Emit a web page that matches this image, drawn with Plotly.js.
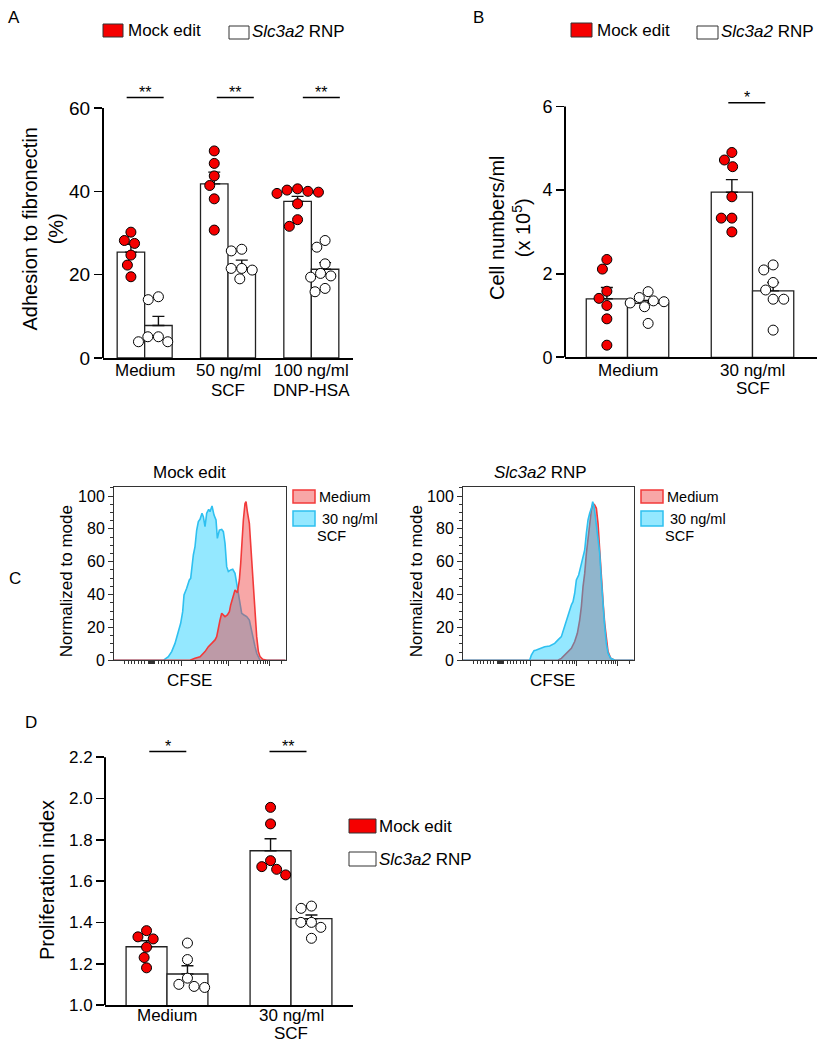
<!DOCTYPE html>
<html><head><meta charset="utf-8">
<script src="https://cdn.plot.ly/plotly-3.0.1.min.js"></script>
<style>html,body{margin:0;padding:0;background:#fff;} #chart{width:826px;height:1050px;}</style>
</head><body><div id="chart"></div>
<script>
// ================= DATA =================
// Panel A: adhesion to fibronectin (%)
const groupsA = ['Medium', '50 ng/ml<br>SCF', '100 ng/ml<br>DNP-HSA'];
const mockMeanA = [25.4, 41.8, 37.6];
const mockSemA = [1.9, 2.8, 1.2];
const slcMeanA = [7.8, 21.6, 21.3];
const slcSemA = [2.2, 1.9, 1.6];
const mockPtsA = [[28.2, 30.2, 27.5, 24.7, 22.3, 19.5], [49.7, 46.7, 43.7, 41.4, 38.2, 30.7], [40.6, 40.3, 40.0, 39.8, 39.5, 37.0, 33.2, 31.6]];
const slcPtsA = [[14.0, 14.7, 3.9, 5.1, 5.1, 3.9], [25.7, 26.1, 21.5, 21.1, 21.5, 19.0], [28.2, 26.6, 22.6, 20.3, 19.4, 19.7, 16.7, 15.9]];
const sigA = ['**', '**', '**'];
const sigLevelA = 62.5;
const yTicksA = [0, 20, 40, 60];

// Panel B: cell numbers/ml (x 10^5)
const groupsB = ['Medium', '30 ng/ml<br>SCF'];
const mockMeanB = [1.40, 3.95];
const mockSemB = [0.27, 0.30];
const slcMeanB = [1.29, 1.59];
const slcSemB = [0.07, 0.20];
const mockPtsB = [[2.11, 2.34, 1.58, 1.41, 1.24, 0.92, 0.29], [4.90, 4.72, 4.56, 3.84, 3.33, 3.33, 3.00]];
const slcPtsB = [[1.57, 1.43, 1.33, 1.35, 1.30, 1.21, 0.81], [2.21, 2.09, 1.79, 1.61, 1.39, 1.39, 0.65]];
const sigB = ['', '*'];
const sigLevelB = 6.09;
const yTicksB = [0, 2, 4, 6];

// Panel C: CFSE histograms (channel, % of mode)
const mockScfX = [0, 287, 316.5, 335.9, 355.3, 374.7, 388.3, 400, 407.8, 423.3, 438.8, 446.6, 454.4, 462.1, 471.8, 481.6, 491.3, 501, 512.6, 520.4, 530.1, 539.8, 551.4, 559.2, 570.9, 582.5, 594.2, 601.9, 613.6, 627.2, 636.9, 646.6, 656.3, 666, 679.6, 691.3, 704.8, 714.6, 724.3, 734, 743.7, 757.3, 772.8, 788.3, 800, 807.8, 821.4, 831.1, 840.8, 850.5, 1000];
const mockScfY = [0, 0, 2.2, 5.3, 10.3, 17.4, 22.5, 29.6, 39.8, 43.8, 48.9, 49.9, 59.0, 64.1, 69.2, 79.3, 84.4, 85.8, 89.5, 87.4, 81.3, 89.5, 91.9, 90.5, 93.9, 88.4, 85.4, 74.2, 79.3, 79.7, 78.3, 71.2, 57.0, 54.0, 55.0, 55.4, 52.9, 46.9, 38.7, 32.7, 28.6, 27.6, 26.6, 24.5, 18.5, 13.4, 8.3, 4.3, 1.6, 0, 0];
const mockMedX = [0, 442.7, 471.8, 501, 530.1, 549.5, 568.9, 588.3, 598, 607.8, 617.5, 627.2, 636.9, 646.6, 660.2, 671.9, 679.6, 691.3, 704.8, 718.4, 730.1, 737.9, 745.6, 753.4, 763.1, 768.9, 776.7, 788.3, 801.9, 811.7, 821.4, 831.1, 840.8, 850.5, 866, 889.3, 1000];
const mockMedY = [0, 0, 1.2, 2.2, 5.3, 8.3, 10.3, 12.4, 14.4, 20.5, 24.5, 28.6, 27.6, 26.6, 27.6, 29.6, 33.7, 37.7, 42.8, 41.2, 48.9, 59.0, 73.2, 85.4, 95.5, 96.6, 90.5, 83.4, 61.1, 44.8, 28.6, 14.4, 5.3, 2.2, 0.6, 0, 0];
const slcScfX = [0, 390.6, 400.4, 416, 429.7, 449.2, 478.5, 507.8, 537.1, 556.6, 576.2, 591.8, 605.5, 619.1, 634.8, 644.5, 654.3, 664.1, 677.7, 689.5, 703.1, 712.9, 722.7, 732.4, 742.2, 752, 759.8, 767.6, 775.4, 787.1, 800.8, 810.5, 820.3, 830.1, 839.8, 849.6, 865.2, 888.7, 1000];
const slcScfY = [0, 0, 3.2, 5.9, 6.3, 7.3, 8.3, 8.7, 10.3, 12.4, 14.4, 19.5, 24.5, 28.6, 33.7, 35.7, 40.8, 48.9, 51.9, 57.0, 64.1, 67.1, 77.3, 85.4, 89.5, 92.5, 96.6, 93.5, 87.4, 77.3, 65.1, 48.9, 32.7, 20.5, 10.3, 4.3, 1.2, 0, 0];
const slcMedX = [0, 556.6, 576.2, 595.7, 615.2, 634.8, 654.3, 669.9, 683.6, 693.4, 703.1, 712.9, 722.7, 732.4, 742.2, 752, 761.7, 771.5, 781.3, 791, 800.8, 810.5, 822.3, 830.1, 839.8, 849.6, 865.2, 888.7, 1000];
const slcMedY = [0, 0, 1.2, 3.2, 5.3, 7.3, 11.4, 16.4, 24.5, 32.7, 44.8, 52.9, 65.1, 75.3, 83.4, 91.5, 95.5, 94.5, 92.5, 83.4, 67.1, 48.9, 32.7, 22.5, 12.4, 5.3, 1.2, 0, 0];
const yTicksC = [0, 20, 40, 60, 80, 100];

// Panel D: proliferation index
const groupsD = ['Medium', '30 ng/ml<br>SCF'];
const mockMeanD = [1.282, 1.747];
const mockSemD = [0.029, 0.058];
const slcMeanD = [1.150, 1.418];
const slcSemD = [0.040, 0.018];
const mockPtsD = [[1.32, 1.33, 1.36, 1.28, 1.23, 1.18], [1.957, 1.877, 1.699, 1.670, 1.657, 1.630]];
const slcPtsD = [[1.30, 1.22, 1.13, 1.10, 1.09, 1.085], [1.468, 1.479, 1.40, 1.40, 1.376, 1.323]];
const sigD = ['*', '**'];
const sigLevelD = 2.227;
const yTicksD = [1.0, 1.2, 1.4, 1.6, 1.8, 2.0, 2.2];

// ================= LAYOUT HELPERS =================
const W = 826, H = 1050;
const FONT = 'Liberation Sans, Arial, Helvetica, sans-serif';
const RED = '#F50000';
const px = x => x / W;
const py = y => 1 - y / H;

const geo = {
  A:  {id: '',  x: [103, 353],   xr: [-0.5, 2.5],   y: [358, 83],      yr: [0, 66],      lab: [370.5, 390]},
  B:  {id: '2', x: [565, 817],   xr: [-0.5, 1.516], y: [357.3, 85.6],  yr: [0, 6.5],     lab: [370, 389]},
  CL: {id: '3', x: [114, 285.7], xr: [0, 1000],     y: [660.3, 487.3], yr: [0, 105.3]},
  CR: {id: '4', x: [463, 633.7], xr: [0, 1000],     y: [660.3, 487.3], yr: [0, 105.3]},
  D:  {id: '5', x: [105, 353],   xr: [-0.5, 1.5],   y: [1005, 732.4],  yr: [1.0, 2.32],  lab: [1015, 1033]}
};

const traces = [];
const shapes = [];
const annotations = [];
const layout = {
  width: W, height: H,
  margin: {l: 0, r: 0, t: 0, b: 0},
  paper_bgcolor: '#fff', plot_bgcolor: 'rgba(0,0,0,0)',
  showlegend: false,
  font: {family: FONT, color: '#000', size: 16},
  shapes, annotations
};

function ann(text, x, y, size, opts) {
  annotations.push(Object.assign({
    text, xref: 'paper', yref: 'paper', x: px(x), y: py(y),
    showarrow: false, font: {family: FONT, size, color: '#000'},
    xanchor: 'center', yanchor: 'middle'
  }, opts || {}));
}
function rect(x0, y0, x1, y1, fill, lineColor, lw) {
  shapes.push({type: 'rect', xref: 'paper', yref: 'paper', x0: px(x0), x1: px(x1), y0: py(y1), y1: py(y0),
    fillcolor: fill, line: {color: lineColor, width: lw}});
}

// simple beeswarm: returns pixel offsets for each value
function swarm(vals, pxPerY, d) {
  const order = vals.map((v, i) => i).sort((a, b) => vals[b] - vals[a]);
  const placed = [];
  const off = new Array(vals.length).fill(0);
  for (const i of order) {
    const y = vals[i] * pxPerY;
    const cands = [0];
    for (const p of placed) {
      const dy = Math.abs(p.y - y);
      if (dy < d) { const dx = Math.sqrt(d * d - dy * dy); cands.push(p.x + dx, p.x - dx); }
    }
    cands.sort((a, b) => Math.abs(a) - Math.abs(b) || a - b);
    for (const c of cands) {
      if (placed.every(p => Math.hypot(p.x - c, p.y - y) >= d - 1e-6)) { off[i] = c; placed.push({x: c, y}); break; }
    }
  }
  return off;
}

function axisDomains(g) {
  return {xd: [px(g.x[0]), px(g.x[1])], yd: [py(g.y[0]), py(g.y[1])]};
}

function barPanel(g, cats, mMean, mSem, sMean, sSem, mPts, sPts, sig, sigY, sigShift, yTicks, tickFmt, fonts) {
  const xa = 'x' + g.id, ya = 'y' + g.id;
  const d = axisDomains(g);
  const pxX = (g.x[1] - g.x[0]) / (g.xr[1] - g.xr[0]);
  const pxY = (g.y[0] - g.y[1]) / (g.yr[1] - g.yr[0]);
  const barW = 0.33;
  const idx = cats.map((_, i) => i);
  const errStyle = {type: 'data', symmetric: false, color: '#111', thickness: 1.4, width: 6};
  traces.push({type: 'bar', x: idx, y: mMean, offset: -barW, width: barW, xaxis: xa, yaxis: ya,
    marker: {color: '#fff', line: {color: '#222', width: 1.3}},
    error_y: Object.assign({array: mSem, arrayminus: mSem.map(() => 0)}, errStyle), hoverinfo: 'skip'});
  traces.push({type: 'bar', x: idx, y: sMean, offset: 0, width: barW, xaxis: xa, yaxis: ya,
    marker: {color: '#fff', line: {color: '#222', width: 1.3}},
    error_y: Object.assign({array: sSem, arrayminus: sSem.map(() => 0)}, errStyle), hoverinfo: 'skip'});
  const addPts = (pts, center, fill) => {
    const xs = [], ys = [];
    pts.forEach((vals, i) => {
      const off = swarm(vals, pxY, 10.6);
      vals.forEach((v, k) => { xs.push(i + center + off[k] / pxX); ys.push(v); });
    });
    traces.push({type: 'scatter', mode: 'markers', x: xs, y: ys, xaxis: xa, yaxis: ya, cliponaxis: false,
      marker: {size: 10, color: fill, line: {color: '#000', width: 1}}, hoverinfo: 'skip'});
  };
  addPts(mPts, -barW / 2, RED);
  addPts(sPts, barW / 2, '#fff');

  const xKey = 'xaxis' + g.id, yKey = 'yaxis' + g.id;
  layout[xKey] = {domain: d.xd, range: g.xr, anchor: ya, showline: true, linewidth: 2, linecolor: '#000',
    ticks: '', tickvals: idx, showticklabels: false,
    showgrid: false, zeroline: false, fixedrange: true};
  layout[yKey] = {domain: d.yd, range: g.yr, anchor: xa, showline: false, ticks: 'outside', ticklen: 8,
    tickwidth: 1.6, tickcolor: '#000', tickvals: yTicks, tickformat: tickFmt,
    tickfont: {family: FONT, size: fonts.y, color: '#000'}, showgrid: false, zeroline: false, fixedrange: true};
  // category labels, one text per line, below the axis
  cats.forEach((c, i) => {
    c.split('<br>').forEach((line, k) => {
      annotations.push({text: line, xref: xa, yref: 'paper', x: i, y: py(g.lab[k]), showarrow: false,
        xanchor: 'center', yanchor: 'middle', font: {family: FONT, size: fonts.x, color: '#000'}});
    });
  });
  // y axis line only up to the top tick
  shapes.push({type: 'line', xref: xa + ' domain', yref: ya, x0: 0, x1: 0, y0: g.yr[0], y1: yTicks[yTicks.length - 1],
    line: {color: '#000', width: 2}});
  // significance bars
  sig.forEach((s, i) => {
    if (!s) return;
    const cx = i + sigShift[i] / pxX;
    shapes.push({type: 'line', xref: xa, yref: ya, xsizemode: 'pixel', xanchor: cx, x0: -18.5, x1: 18.5,
      y0: sigY, y1: sigY, line: {color: '#000', width: 1.5}});
    annotations.push({text: s, xref: xa, yref: ya, x: cx, y: sigY, yshift: 5, showarrow: false,
      xanchor: 'center', yanchor: 'middle', font: {family: FONT, size: 16, color: '#000'}});
  });
}

barPanel(geo.A, groupsA, mockMeanA, mockSemA, slcMeanA, slcSemA, mockPtsA, slcPtsA, sigA, sigLevelA,
  [0.5, 7.3, 10], yTicksA, 'd', {x: 17, y: 19});
barPanel(geo.B, groupsB, mockMeanB, mockSemB, slcMeanB, slcSemB, mockPtsB, slcPtsB, sigB, sigLevelB,
  [0, -5.7], yTicksB, 'd', {x: 17, y: 18});
barPanel(geo.D, groupsD, mockMeanD, mockSemD, slcMeanD, slcSemD, mockPtsD, slcPtsD, sigD, sigLevelD,
  [0.8, -3], yTicksD, '.1f', {x: 17, y: 17});

// ----- Panel C histograms -----
const redLine = '#F23A3A', redFill = 'rgba(240,60,60,0.45)';
const blueLine = '#2EC0F0', blueFill = 'rgba(0,200,255,0.42)';
const decadeStarts = [394, 666, 905];
const decadeWidths = [272, 239, 239];
const minorC = [];
for (let c = 64; c < 380; c += 19.4) minorC.push(c);
for (let c = 206; c <= 238; c += 4) minorC.push(c);
decadeStarts.forEach((s, i) => { for (let k = 2; k <= 9; k++) { const v = s + decadeWidths[i] * Math.log10(k); if (v < 1000) minorC.push(v); } });

function histPanel(g, series) {
  const xa = 'x' + g.id, ya = 'y' + g.id;
  const d = axisDomains(g);
  series.forEach(s => traces.push({type: 'scatter', mode: 'lines', x: s.x, y: s.y, xaxis: xa, yaxis: ya,
    fill: 'tozeroy', fillcolor: s.fill, line: {color: s.line, width: 1.6}, hoverinfo: 'skip'}));
  layout['xaxis' + g.id] = {domain: d.xd, range: g.xr, anchor: ya, showline: true, mirror: true, linecolor: '#333', linewidth: 1,
    ticks: 'outside', ticklen: 5, tickwidth: 1, tickcolor: '#333', tickvals: decadeStarts, showticklabels: false,
    minor: {tickvals: minorC, ticks: 'outside', ticklen: 3, tickwidth: 1, tickcolor: '#333'},
    showgrid: false, zeroline: false, fixedrange: true};
  layout['yaxis' + g.id] = {domain: d.yd, range: g.yr, anchor: xa, showline: true, mirror: true, linecolor: '#333', linewidth: 1,
    ticks: 'outside', ticklen: 5, tickwidth: 1, tickcolor: '#333', tickvals: yTicksC,
    minor: {dtick: 5, ticks: 'outside', ticklen: 3, tickwidth: 1, tickcolor: '#333'},
    tickfont: {family: FONT, size: 16, color: '#000'}, showgrid: false, zeroline: false, fixedrange: true};
}
histPanel(geo.CL, [
  {x: mockScfX, y: mockScfY, fill: blueFill, line: blueLine},
  {x: mockMedX, y: mockMedY, fill: redFill, line: redLine}
]);
histPanel(geo.CR, [
  {x: slcMedX, y: slcMedY, fill: redFill, line: redLine},
  {x: slcScfX, y: slcScfY, fill: blueFill, line: blueLine}
]);

// ================= TEXT & LEGENDS =================
// panel letters
ann('A', 14, 18, 17);
ann('B', 479, 18, 17);
ann('C', 15, 578, 17);
ann('D', 31, 722, 17);

// y-axis titles
ann('Adhesion to fibronectin<br>(%)', 42.5, 229, 20, {textangle: -90});
ann('Cell numbers/ml<br>(x 10<sup>5</sup>)', 510, 228, 20, {textangle: -90});
ann('Proliferation index', 47, 880, 20, {textangle: -90});
ann('Normalized to mode', 66.7, 581.5, 17, {textangle: -90});
ann('Normalized to mode', 416.7, 581.5, 17, {textangle: -90});
ann('CFSE', 189, 680, 17);
ann('CFSE', 552.7, 680, 17);
ann('Mock edit', 189, 472.7, 17);
ann('<i>Slc3a2</i> RNP', 540, 472.7, 17);

// bar legends
function barLegend(rx, ry, tx, ty, text) {
  rect(rx[0], ry[0], rx[1], ry[1], text === 'Mock edit' ? RED : '#fff', '#333', 1);
  ann(text, tx, ty, 17, {xanchor: 'left'});
}
barLegend([103, 123], [24, 37], 126, 31, 'Mock edit');
barLegend([229, 249], [26, 39], 250, 32, '<i>Slc3a2</i> RNP');
barLegend([571, 592], [23, 37], 595, 30, 'Mock edit');
barLegend([697, 718], [26, 39], 719, 32, '<i>Slc3a2</i> RNP');
barLegend([349, 376], [819, 833], 377, 826, 'Mock edit');
barLegend([349, 376], [852, 866], 377, 859, '<i>Slc3a2</i> RNP');

// histogram legends
function histLegend(x0) {
  rect(x0, 490, x0 + 22, 503, redFill, redLine, 1.5);
  rect(x0, 511, x0 + 22, 526, blueFill, blueLine, 1.5);
  ann('Medium', x0 + 24, 497, 14.5, {xanchor: 'left'});
  ann('30 ng/ml', x0 + 27, 519, 14.5, {xanchor: 'left'});
  ann('SCF', x0 + 22, 536, 14.5, {xanchor: 'left'});
}
histLegend(293);
histLegend(641);

Plotly.newPlot('chart', traces, layout, {staticPlot: true, displayModeBar: false});
</script>
</body></html>
